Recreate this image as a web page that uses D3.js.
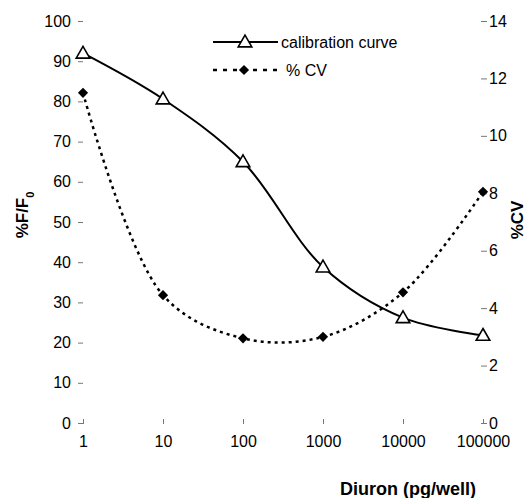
<!DOCTYPE html>
<html>
<head>
<meta charset="utf-8">
<script src="https://cdn.jsdelivr.net/npm/d3@7"></script>
<style>
  body { margin: 0; background: #fff; }
  svg text { font-family: "Liberation Sans", Arial, sans-serif; fill: #000; }
</style>
</head>
<body>
<div id="chart"></div>
<script>
// data
const doses = [1, 10, 100, 1000, 10000, 100000];
const calibration = [92, 80.6, 65, 38.8, 26.2, 21.8];
const cv = [11.5, 4.45, 2.95, 3.0, 4.55, 8.05];
const leftTicks = [0, 10, 20, 30, 40, 50, 60, 70, 80, 90, 100];
const rightTicks = [0, 2, 4, 6, 8, 10, 12, 14];

const wide = 531;
const high = 498;

const svg = d3.select("#chart")
  .append("svg")
  .attr("width", wide)
  .attr("height", high);

// scales
const x = d3.scaleLog().domain([1, 100000]).range([83, 483]);
const yL = d3.scaleLinear().domain([0, 100]).range([423, 21]);
const yR = d3.scaleLinear().domain([0, 14]).range([423, 21]);

// axes, no domain lines, only short ticks
const leftAxis = d3.axisLeft(yL).tickValues(leftTicks).tickSize(5).tickPadding(7);
svg.append("g")
  .attr("transform", "translate(83,0)")
  .call(leftAxis)
  .call(g => g.select(".domain").remove())
  .call(g => g.selectAll("line").attr("stroke", "#777"))
  .call(g => g.selectAll("text").attr("font-size", 16));

const rightAxis = d3.axisRight(yR).tickValues(rightTicks).tickSize(6).tickPadding(2);
svg.append("g")
  .attr("transform", "translate(481,0)")
  .call(rightAxis)
  .call(g => g.select(".domain").remove())
  .call(g => g.selectAll("line").attr("stroke", "#777"))
  .call(g => g.selectAll("text").attr("font-size", 16));

const bottomAxis = d3.axisBottom(x).tickValues(doses)
  .tickFormat(d3.format("d")).tickSize(5).tickPadding(12);
svg.append("g")
  .attr("transform", "translate(0,419)")
  .call(bottomAxis)
  .call(g => g.select(".domain").remove())
  .call(g => g.selectAll("line").attr("stroke", "#777"))
  .call(g => g.selectAll("text").attr("font-size", 16));

// axis titles
svg.append("text")
  .attr("transform", "translate(28,215) rotate(-90)")
  .attr("text-anchor", "middle")
  .attr("font-size", 17)
  .attr("font-weight", "bold")
  .html('%F/F<tspan baseline-shift="sub" font-size="11">0</tspan>');

svg.append("text")
  .attr("transform", "translate(523,220) rotate(-90)")
  .attr("text-anchor", "middle")
  .attr("font-size", 17)
  .attr("font-weight", "bold")
  .text("%CV");

svg.append("text")
  .attr("x", 408)
  .attr("y", 495)
  .attr("text-anchor", "middle")
  .attr("font-size", 18)
  .attr("font-weight", "bold")
  .text("Diuron (pg/well)");

// lines
const calLine = d3.line()
  .x((d, i) => x(doses[i]))
  .y(d => yL(d))
  .curve(d3.curveCatmullRom.alpha(0.5));

const cvLine = d3.line()
  .x((d, i) => x(doses[i]))
  .y(d => yR(d))
  .curve(d3.curveCatmullRom.alpha(0.5));

svg.append("path")
  .datum(calibration)
  .attr("d", calLine)
  .attr("fill", "none")
  .attr("stroke", "#000")
  .attr("stroke-width", 2);

svg.append("path")
  .datum(cv)
  .attr("d", cvLine)
  .attr("fill", "none")
  .attr("stroke", "#000")
  .attr("stroke-width", 2.5)
  .attr("stroke-dasharray", "3,4");

// markers
const tri = d3.symbol().type(d3.symbolTriangle).size(80);
const dia = d3.symbol().type(d3.symbolSquare).size(52);

svg.selectAll(".cal")
  .data(calibration)
  .enter()
  .append("path")
  .attr("class", "cal")
  .attr("d", tri)
  .attr("transform", (d, i) => "translate(" + x(doses[i]) + "," + (yL(d) + 1) + ")")
  .attr("fill", "#fff")
  .attr("stroke", "#000")
  .attr("stroke-width", 1.6);

svg.selectAll(".cv")
  .data(cv)
  .enter()
  .append("path")
  .attr("class", "cv")
  .attr("d", dia)
  .attr("transform", (d, i) => "translate(" + x(doses[i]) + "," + yR(d) + ") rotate(45)")
  .attr("fill", "#000");

// legend
const legend = svg.append("g");
legend.append("line")
  .attr("x1", 213).attr("x2", 278).attr("y1", 42).attr("y2", 42)
  .attr("stroke", "#000").attr("stroke-width", 2);
legend.append("path")
  .attr("d", tri)
  .attr("transform", "translate(245,43)")
  .attr("fill", "#fff").attr("stroke", "#000").attr("stroke-width", 1.6);
legend.append("text")
  .attr("x", 281).attr("y", 48)
  .attr("font-size", 16)
  .text("calibration curve");

legend.append("line")
  .attr("x1", 213).attr("x2", 280).attr("y1", 70).attr("y2", 70)
  .attr("stroke", "#000").attr("stroke-width", 2.5)
  .attr("stroke-dasharray", "4,6");
legend.append("path")
  .attr("d", dia)
  .attr("transform", "translate(244,70) rotate(45)")
  .attr("fill", "#000");
legend.append("text")
  .attr("x", 286).attr("y", 76)
  .attr("font-size", 16)
  .text("% CV");
</script>
</body>
</html>
